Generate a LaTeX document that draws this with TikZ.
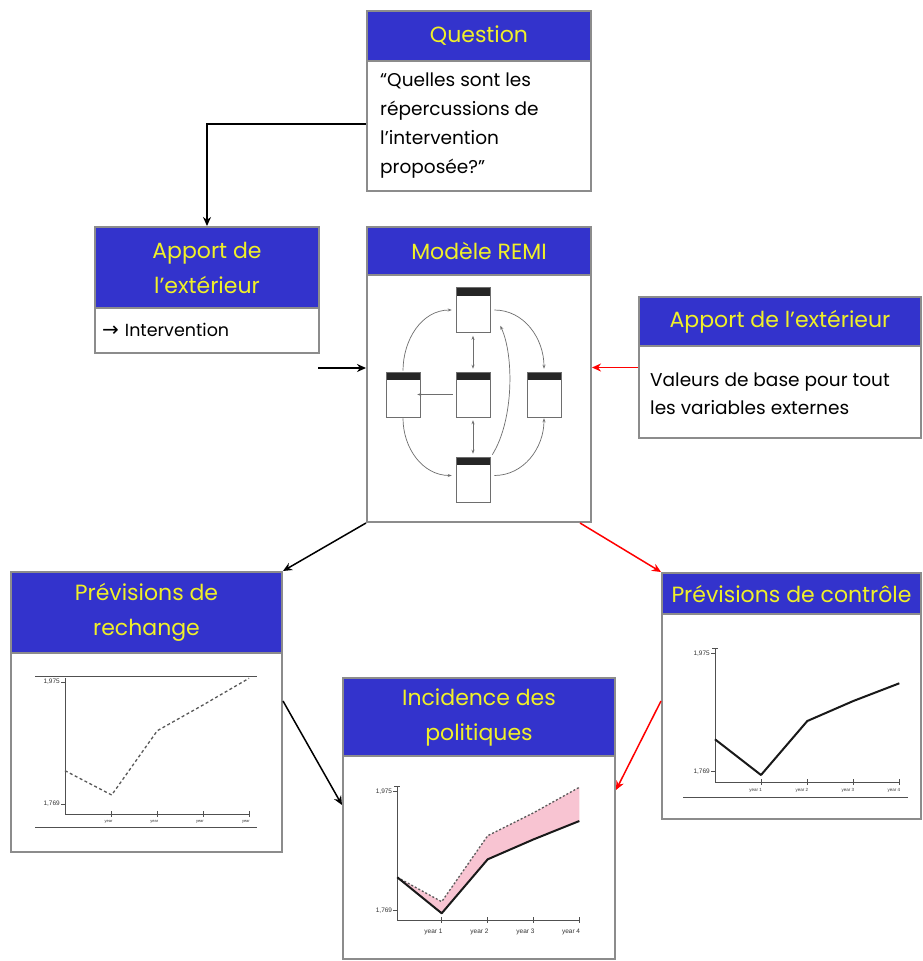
\documentclass[tikz,border=0pt]{standalone}
\usepackage{fontspec}
\setmainfont{Poppins}
\newfontfamily\chartfont{Liberation Sans}
\newfontfamily\symfont{DejaVu Sans}
\usetikzlibrary{arrows.meta}
\definecolor{hdrblue}{RGB}{51,51,204}
\definecolor{hdrtxt}{RGB}{240,240,40}
\definecolor{frame}{RGB}{140,140,140}
\definecolor{pinkfill}{RGB}{248,196,210}
\definecolor{axisgray}{RGB}{80,80,80}
\definecolor{netgray}{RGB}{110,110,110}
\begin{document}
\begin{tikzpicture}[x=1pt,y=-1pt,
  boxframe/.style={draw=frame, line width=2pt, fill=white, anchor=north west, inner sep=0pt},
  hdr/.style={draw=frame, line width=2pt, fill=hdrblue, anchor=north west, inner sep=0pt,
    text=hdrtxt, font=\fontsize{22}{35}\selectfont, align=center},
  bodytxt/.style={inner sep=0pt, align=left, font=\fontsize{18.5}{29}\selectfont, anchor=west},
  conn/.style={line width=1.5pt, -{Stealth[length=9pt,width=8pt]}},
  win/.style={draw=netgray, line width=0.6pt, fill=white, minimum width=34pt, minimum height=45pt, inner sep=0pt,
    path picture={\fill[black!85] (path picture bounding box.north west) rectangle ([yshift=-8pt]path picture bounding box.north east);}},
  net/.style={draw=netgray, line width=0.7pt, -{Stealth[length=4pt,width=3pt]}},
  netd/.style={draw=netgray, line width=0.7pt, {Stealth[length=4pt,width=3pt]}-{Stealth[length=4pt,width=3pt]}},
  ax/.style={draw=axisgray, line width=0.9pt},
  lbl/.style={font=\chartfont\fontsize{6.5}{6.5}\selectfont, inner sep=1pt, text=black!80}
]
\useasboundingbox (0,0) rectangle (922,961);

% Question
\node[boxframe, minimum width=224pt, minimum height=180pt] (q) at (366,10) {};
\node[hdr, minimum width=224pt, minimum height=50pt] (qh) at (366,10) {Question};
\node[bodytxt] (qt) at (380,126) {“Quelles sont les\\répercussions de\\l’intervention\\proposée?”};

% Apport left
\node[boxframe, minimum width=224pt, minimum height=126pt] (al) at (94,226) {};
\node[hdr, minimum width=224pt, minimum height=81pt] (alh) at (94,226) {Apport de\\l’extérieur};
\node[bodytxt, font=\fontsize{17.5}{17.5}\selectfont] (alt) at (102,330) {{\symfont\fontsize{20}{20}\selectfont →}\hspace{6pt}Intervention};

% REMI
\node[boxframe, minimum width=224pt, minimum height=295pt] (remi) at (366,226) {};
\node[hdr, minimum width=224pt, minimum height=48pt] (remih) at (366,226) {Modèle REMI};

\node[win] (wt) at (473,310) {};
\node[win] (wl) at (403,394.5) {};
\node[win] (wc) at (473,394.5) {};
\node[win] (wr) at (544,394.5) {};
\node[win] (wb) at (473,479.5) {};
\draw[netd] ([yshift=-3pt]wt.south) -- ([yshift=3pt]wc.north);
\draw[netd] ([yshift=-3pt]wc.south) -- ([yshift=3pt]wb.north);
\draw[net] ([xshift=-3pt]wc.west) -- ([xshift=-3pt]wl.east);
\draw[net] ([yshift=1pt]wl.north) to[out=90,in=180] ([xshift=-4pt]wt.west);
\draw[net] ([xshift=4pt]wt.east) to[out=0,in=90] ([yshift=3pt]wr.north);
\draw[net] ([yshift=-1pt]wl.south) to[out=-90,in=180] ([xshift=-4pt,yshift=4pt]wb.west);
\draw[net] ([xshift=4pt,yshift=4pt]wb.east) to[out=0,in=-90] ([yshift=-1pt]wr.south);
\draw[net] ([xshift=2pt,yshift=2pt]wb.north east) .. controls (514,420) and (514,355) .. ([xshift=10pt,yshift=7pt]wt.south east);

% Apport right
\node[boxframe, minimum width=282pt, minimum height=141pt] (ar) at (638,296) {};
\node[hdr, minimum width=282pt, minimum height=49pt] (arh) at (638,296) {Apport de l’extérieur};
\node[bodytxt, font=\fontsize{18.5}{28}\selectfont] (art) at (650,394) {Valeurs de base pour tout\\les variables externes};

% Previsions de rechange
\node[boxframe, minimum width=271pt, minimum height=280pt] (lp) at (10,571) {};
\node[hdr, minimum width=271pt, minimum height=81pt] (lph) at (10,571) {Prévisions de\\rechange};
\draw[ax, line width=0.6pt] (35,676) -- (257,676);
\draw[ax] (65,678) -- (65,814) -- (250,814);
\draw[ax, line width=0.6pt] (35,827) -- (257,827);
\foreach \x in {111.7,157.3,203,249} {\draw[ax] (\x,811) -- (\x,817);
  \node[lbl, anchor=east, font=\chartfont\fontsize{4}{4}\selectfont] at (\x+2,822) {year};}
\draw[ax] (61,682) -- (65,682); \draw[ax] (61,804) -- (65,804);
\node[lbl, anchor=east] (lp1) at (61,682) {1,975};
\node[lbl, anchor=east] (lp2) at (61,804) {1,769};
\draw[gray!70!black, line width=1.3pt, dash pattern=on 3pt off 2.5pt] (65,770.7) -- (111.7,795) -- (157.3,730.7) -- (203,705) -- (249,678.3);

% Previsions de controle
\node[boxframe, minimum width=259pt, minimum height=246pt] (rp) at (661,572) {};
\node[hdr, minimum width=259pt, minimum height=41pt] (rph) at (661,572) {Prévisions de contrôle};
\draw[ax] (712,648.3) -- (718,648.3);
\draw[ax] (715,648.3) -- (715,782.3) -- (900,782.3);
\draw[ax, line width=0.6pt] (683,797) -- (908,797);
\foreach \x/\t in {761/1,807.3/2,853.3/3,899.3/4} {\draw[ax] (\x,779.3) -- (\x,785.3);
  \node[lbl, anchor=east, font=\chartfont\fontsize{4.5}{4.5}\selectfont] at (\x+2,790) {year \t};}
\draw[ax] (711,653.3) -- (715,653.3); \draw[ax] (711,771.7) -- (715,771.7);
\node[lbl, anchor=east] (rp1) at (711,653.3) {1,975};
\node[lbl, anchor=east] (rp2) at (711,771.7) {1,769};
\draw[black!90, line width=2pt, line join=round] (715,739.3) -- (761,775) -- (807.3,721) -- (853.3,701) -- (899.3,683.3);

% Incidence des politiques
\node[boxframe, minimum width=272pt, minimum height=281pt] (inc) at (342,677) {};
\node[hdr, minimum width=272pt, minimum height=78pt] (inch) at (342,677) {Incidence des\\politiques};
\fill[pinkfill] (397.3,877.3) -- (441.7,901.7) -- (487.7,835.7) -- (533.7,812.7) -- (579.3,787.3)
  -- (579.3,821) -- (533.7,839.3) -- (487.7,859.3) -- (441.7,913.3) -- cycle;
\draw[ax] (394.3,786.7) -- (400.3,786.7);
\draw[ax] (397.3,786.7) -- (397.3,920) -- (579.3,920);
\foreach \x/\t in {441.7/1,487.7/2,533.7/3,579.3/4} {\draw[ax] (\x,917) -- (\x,923);
  \node[lbl, anchor=east] at (\x+2,931.7) {year \t};}
\draw[ax] (393.3,791.7) -- (397.3,791.7); \draw[ax] (393.3,910.7) -- (397.3,910.7);
\node[lbl, anchor=east] (ic1) at (393.3,791.7) {1,975};
\node[lbl, anchor=east] (ic2) at (393.3,910.7) {1,769};
\draw[gray!70!black, line width=1.3pt, dash pattern=on 2pt off 2pt] (397.3,877.3) -- (441.7,901.7) -- (487.7,835.7) -- (533.7,812.7) -- (579.3,787.3);
\draw[black!90, line width=2pt, line join=round] (397.3,877.3) -- (441.7,913.3) -- (487.7,859.3) -- (533.7,839.3) -- (579.3,821);

% Connectors
\draw[conn] ([yshift=-62pt]qh.south west) -| (alh.north);
\coordinate (freein) at (318,368);
\draw[conn] (freein) -- (freein -| remi.west);
\draw[conn, red] (ar.west) -- (ar.west -| remi.east);
\draw[conn] (remi.south west) -- (lp.north east);
\draw[conn, red] ([xshift=-12pt]remi.south east) -- (rp.north west);
\draw[conn] ([yshift=-130pt]lp.north east) -- ([yshift=-128pt]inc.north west);
\draw[conn, red] ([yshift=-129pt]rp.north west) -- ([yshift=-113pt]inc.north east);
\end{tikzpicture}
\end{document}
